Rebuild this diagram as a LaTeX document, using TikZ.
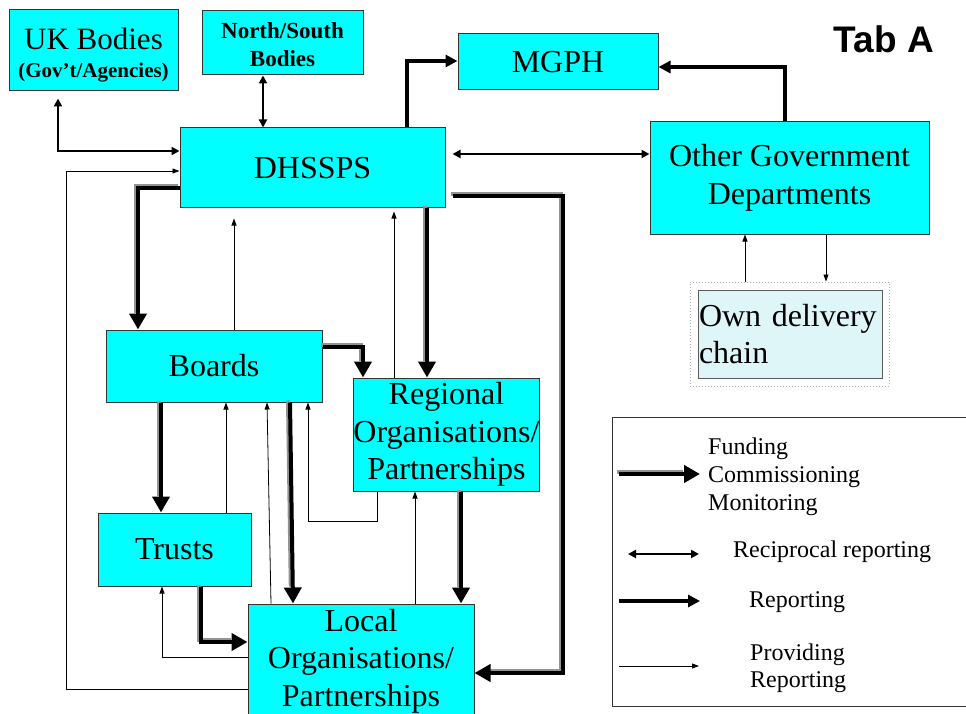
\documentclass[tikz,border=0pt]{standalone}
\usepackage{fontspec}
\setmainfont{Liberation Serif}
\newfontfamily\tabfont{Liberation Sans}
\usetikzlibrary{arrows.meta,shapes}

\definecolor{boxcyan}{RGB}{0,255,255}
\definecolor{boxedge}{RGB}{51,51,51}
\definecolor{chainfill}{RGB}{223,246,248}

\tikzset{
  box/.style={draw=boxedge, fill=boxcyan, line width=1pt, align=center, inner sep=0pt,
    font=\fontsize{32}{37.5}\selectfont},
  fund/.style={line width=4pt, -{Triangle[length=16pt,width=17pt]}},
  fund shadow/.style={draw=gray!85, line width=4pt, shorten >=15pt,
    transform canvas={shift={(-2pt,2pt)}}},
  report/.style={line width=3.5pt, -{Triangle[length=12pt,width=12pt]}},
  recip/.style={line width=2.5pt, {Triangle[length=8pt,width=8pt]}-{Triangle[length=8pt,width=8pt]}},
  provide/.style={line width=0.8pt, -{Triangle[length=7pt,width=5pt]}},
  legtext/.style={anchor=west, align=left, inner sep=0pt, font=\fontsize{24}{28}\selectfont},
}

% funding lines: black with a grey edge on the upper left
\newcommand{\fundarrow}[2][]{%
  \draw[fund shadow,#1] #2;
  \draw[fund,#1] #2;}

\begin{document}
\begin{tikzpicture}[x=1pt, y=-1pt]
    \useasboundingbox (0,0) rectangle (966,714);

    % boxes
    \node[box, minimum width=169pt, minimum height=81pt] (ukb) at (93.5,50.5)
        {\fontsize{31}{27}\selectfont\rule{0pt}{31pt}UK Bodies\\[-10pt]{\fontsize{21}{24}\selectfont\bfseries (Gov’t/Agencies)}};
    \node[box, minimum width=161pt, minimum height=64pt, font=\fontsize{23}{28}\selectfont\bfseries] (nsb) at (282.5,43)
        {\rule{0pt}{20pt}North/South\\Bodies};
    \node[box, minimum width=200pt, minimum height=56pt] (mgph) at (558,62) {MGPH};
    \node[box, minimum width=265pt, minimum height=80pt] (dh) at (312.5,168) {DHSSPS};
    \node[box, minimum width=279pt, minimum height=112pt] (ogd) at (789.5,178) {Other Government\\Departments};
    \node[draw=gray!60, dotted, line width=1pt, minimum width=199pt, minimum height=104pt] (odcframe) at (789.5,334) {};
    \node[box, fill=chainfill, draw=boxedge!80, text width=182pt, align=left, inner sep=1pt,
        minimum height=88pt] (odc) at (790,334) {Own delivery\\chain};
    \node[box, minimum width=216pt, minimum height=72pt] (boards) at (214,366) {Boards};
    \node[box, minimum width=185pt, minimum height=113pt] (reg) at (446.5,434.5) {Regional\\Organisations/\\Partnerships};
    \node[box, minimum width=153pt, minimum height=73pt] (trusts) at (174.5,549.5) {Trusts};
    \node[box, minimum width=226pt, minimum height=114pt] (local) at (361,661) {Local\\Organisations/\\Partnerships};

    \node[font=\tabfont\bfseries\fontsize{37}{40}\selectfont, inner sep=0pt] (tab) at (884,39) {Tab A};

    % links to and from DHSSPS
    \draw[recip, shorten <=7pt] (ukb.south -| 58,0) |- (dh.west |- 0,151);
    \draw[recip] (nsb.south -| 263,0) -- (dh.north -| 263,0);
    \draw[report] (dh.north -| 407,0) |- (mgph.west |- 0,61);
    \draw[recip, shorten <=7pt] (dh.east |- 0,154) -- (ogd.west |- 0,154);
    \draw[report] (ogd.north -| 785,0) |- (mgph.east |- 0,67);
    \draw[provide] (odcframe.north -| 745,0) -- (ogd.south -| 745,0);
    \draw[provide] (ogd.south -| 826,0) -- (odcframe.north -| 826,0);

    \fundarrow{(dh.west |- 0,188) -| (boards.north -| 138,0)}
    \draw[provide, shorten >=10pt] (boards.north -| 234,0) -- (dh.south -| 234,0);
    \fundarrow[shorten <=7pt]{(dh.east |- 0,196) -| (563,673) -- (local.east |- 0,673)}
    \fundarrow{(dh.south -| 427,0) -- (reg.north -| 427,0)}
    \draw[provide, shorten >=3pt] (reg.north -| 394,0) -- (dh.south -| 394,0);

    % boards, trusts, regional and local
    \fundarrow{(boards.east |- 0,347) -| (reg.north -| 363,0)}
    \fundarrow{(boards.south -| 161,0) -- (trusts.north -| 161,0)}
    \draw[provide] (trusts.north -| 226,0) -- (boards.south -| 226,0);
    \draw[provide] (local.north -| 271,0) -- (boards.south -| 267,0);
    \fundarrow{(boards.south -| 290,0) -- (local.north -| 293,0)}
    \draw[provide] (reg.south -| 377,0) |- (308,521) -- (boards.south -| 308,0);
    \draw[provide] (local.north -| 415,0) -- (reg.south -| 415,0);
    \fundarrow{(reg.south -| 461,0) -- (local.north -| 461,0)}
    \fundarrow{(trusts.south -| 201,0) |- (local.west |- 0,642)}
    \draw[provide] (local.west |- 0,657) -| (trusts.south -| 162,0);
    \draw[provide] (local.west |- 0,689) -| (66,171) -- (dh.west |- 0,171);

    % key
    \node[draw=boxedge, line width=1pt, minimum width=363pt, minimum height=289pt] (legend) at (793.5,561.5) {};
    \node[legtext] (lfund) at (708,476.4) {Funding\\Commissioning\\Monitoring};
    \node[legtext] (lrecip) at (733,551.4) {Reciprocal reporting};
    \node[legtext] (lreport) at (749,602.4) {Reporting};
    \node[legtext, font=\fontsize{24}{27}\selectfont] (lprov) at (750,667.9) {Providing\\Reporting};
    \coordinate (kf) at (619,474);
    \coordinate (kr) at (628,554);
    \coordinate (kp) at (619,601);
    \coordinate (kt) at (619,666);
    \fundarrow{(kf) -- (kf -| 700,0)}
    \draw[recip] (kr) -- (kr -| 699,0);
    \draw[report] (kp) -- (kp -| 700,0);
    \draw[provide] (kt) -- (kt -| 699,0);
\end{tikzpicture}
\end{document}
